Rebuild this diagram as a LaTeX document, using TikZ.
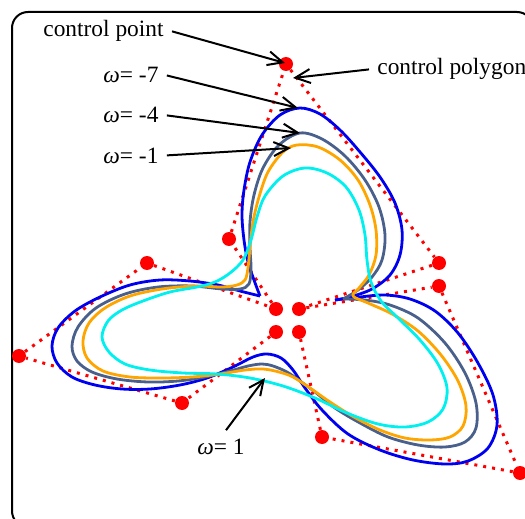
\documentclass[tikz,border=0pt]{standalone}
\usepackage{fontspec}
\setmainfont{Liberation Serif}
\usetikzlibrary{arrows.meta}

\definecolor{wblue}{RGB}{0,0,240}
\definecolor{wslate}{RGB}{74,96,140}
\definecolor{worange}{RGB}{255,165,0}
\definecolor{wcyan}{RGB}{0,240,240}

\begin{document}
\begin{tikzpicture}[x=0.5pt,y=-0.5pt,
  cpt/.style={circle,fill=red,inner sep=0pt,minimum size=7pt},
  ctrl/.style={red,line width=1.5pt,dash pattern=on 1.5pt off 3pt},
  crv/.style={line width=1.4pt,line join=round},
  lbl/.style={anchor=base west,inner sep=4pt,font=\fontsize{11.7}{14}\selectfont},
  pointer/.style={-{Straight Barb[length=7.5pt,width=7pt]},line width=1pt}]
\useasboundingbox (0,0) rectangle (525,519);
\clip (0,0) rectangle (525,519);
\draw[line width=1pt,rounded corners=8pt] (12,12) rectangle (533,527); % frame

% control points
\node[cpt] (p1) at (286,64) {};
\node[cpt] (p2) at (229,239) {};
\node[cpt] (p3) at (147,263) {};
\node[cpt] (p4) at (19,356) {};
\node[cpt] (p5) at (182,403) {};
\node[cpt] (c1) at (276,309) {};
\node[cpt] (c2) at (299,309) {};
\node[cpt] (c3) at (276,332) {};
\node[cpt] (c4) at (299,332) {};
\node[cpt] (p6) at (439,263) {};
\node[cpt] (p7) at (439,286) {};
\node[cpt] (p8) at (322,437) {};
\node[cpt] (p9) at (520,473) {};

% control polygon
\draw[ctrl] (c1) -- (p2) -- (p1) -- (p6) -- (c2) -- (p7) -- (p9) -- (p8) -- (c4);
\draw[ctrl] (c3) -- (p5) -- (p4) -- (p3) -- (c1);

% omega = -7
\draw[crv,wblue] plot[smooth,tension=0.55] coordinates {(260,296) (254,280) (248,262) (244,240)
  (242,215) (244,190) (250,162) (262,135) (280,115) (300,108) (320,114) (340,130) (360,152)
  (380,177) (395,203) (402,230) (400,255) (390,275) (372,289) (350,297) (335,300)};
\draw[crv,wblue] plot[smooth,tension=0.55] coordinates {(335,300) (360,297) (385,295) (410,299)
  (435,311) (458,333) (478,363) (493,395) (497,425) (488,448) (468,461) (445,464) (413,460)
  (380,450) (348,434) (322,410) (305,388) (293,370) (281,358) (267,354) (253,357) (233,367)
  (207,378) (180,385) (150,389) (122,389) (95,385) (72,377) (57,363) (52,346) (58,328)
  (75,311) (100,297) (130,285) (160,280) (190,281) (218,285) (240,291) (260,296)};

% omega = -4
\draw[crv,wslate] plot[smooth,tension=0.55] coordinates {(343,299) (365,300) (390,305) (418,318)
  (445,343) (465,373) (476,403) (476,428) (465,442) (445,447) (418,445) (388,437) (360,423)
  (335,408) (315,392) (300,381) (287,372) (273,366) (262,364) (248,366) (230,371) (205,377)
  (178,381) (148,382) (117,379) (92,372) (77,361) (72,346) (78,327) (96,308) (125,294)
  (158,287) (192,286) (222,289) (240,289) (249,284) (251,268) (250,248) (250,222) (254,195)
  (263,168) (279,145) (300,133) (322,139) (345,156) (365,180) (379,207) (385,235) (382,260)
  (372,277) (358,290) (343,299)};

% omega = -1
\draw[crv,worange] plot[smooth cycle,tension=0.55] coordinates {(297,145) (318,147) (340,160)
  (358,180) (370,205) (376,230) (376,255) (369,275) (359,288) (353,296) (368,303) (392,314)
  (418,331) (441,355) (458,381) (466,406) (463,426) (450,437) (430,440) (405,438) (380,430)
  (354,417) (330,402) (310,388) (293,377) (279,372) (263,369) (245,370) (220,374) (192,377)
  (162,378) (130,377) (103,371) (87,358) (83,341) (89,323) (105,308) (130,296) (162,289)
  (195,286) (222,287) (237,285) (245,280) (248,268) (250,247) (253,222) (259,197) (268,172)
  (283,152)};

% omega = 1
\draw[crv,wcyan] plot[smooth cycle,tension=0.55] coordinates {(305,168) (327,173) (346,187)
  (359,210) (365,235) (367,260) (371,282) (381,301) (398,318) (420,340) (438,364) (447,388)
  (443,409) (428,422) (405,427) (378,424) (347,413) (315,398) (283,386) (250,378) (217,374)
  (183,373) (150,370) (125,364) (109,352) (102,337) (108,321) (122,310) (143,301) (170,292)
  (197,287) (215,282) (230,273) (243,260) (251,240) (257,217) (265,196) (283,176)};

% labels
\node[lbl] (cpoint) at (35,37) {control point};
\node[lbl] (cpoly) at (369,75) {control polygon};
\node[lbl] (w7) at (95,83) {\textit{ω}= -7};
\node[lbl] (w4) at (95,123) {\textit{ω}= -4};
\node[lbl] (wm1) at (95,163) {\textit{ω}= -1};
\node[lbl] (w1) at (189,454) {\textit{ω}= 1};

\coordinate (tpoint) at (285,63);
\coordinate (tpoly) at (293,78);
\coordinate (t7) at (298,108);
\coordinate (t4) at (300,133);
\coordinate (tm1) at (291,148);
\coordinate (t1) at (265,378);

\draw[pointer] (cpoint.east) -- (tpoint);
\draw[pointer] (cpoly.west) -- (tpoly);
\draw[pointer] (w7.east) -- (t7);
\draw[pointer] (w4.east) -- (t4);
\draw[pointer] (wm1.east) -- (tm1);
\draw[pointer] ([xshift=2.5pt]w1.north) -- (t1);
\end{tikzpicture}
\end{document}
